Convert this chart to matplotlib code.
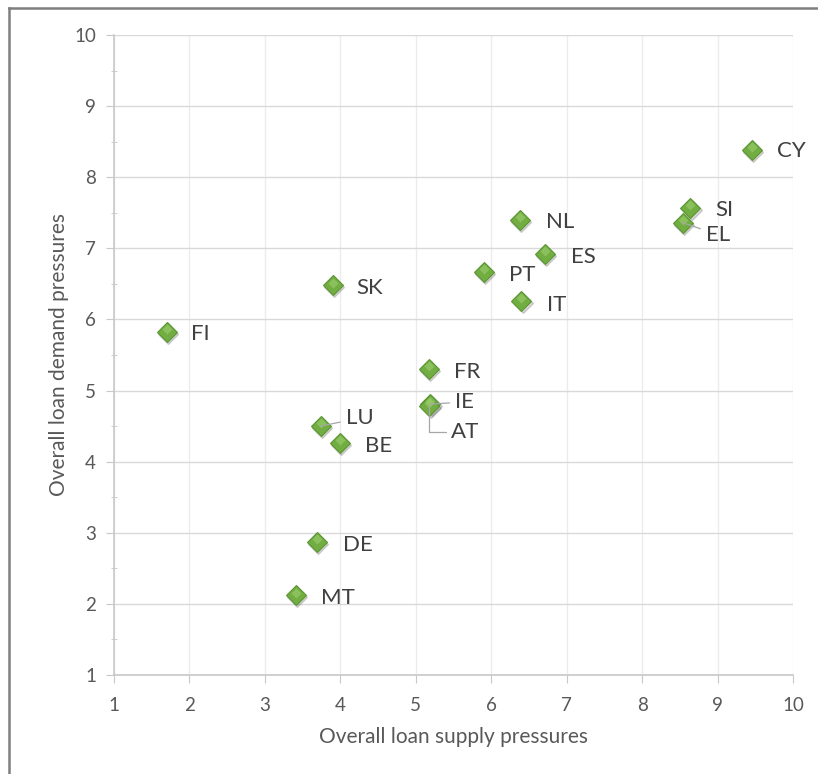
import matplotlib

matplotlib.use("Agg")
import matplotlib.pyplot as plt
from matplotlib.lines import Line2D
from matplotlib.transforms import ScaledTranslation

plt.rcParams["font.family"] = ["Lato", "DejaVu Sans"]

countries = ["FI", "SK", "LU", "BE", "DE", "MT", "FR", "IE", "AT",
             "PT", "NL", "ES", "IT", "SI", "EL", "CY"]
supply = [1.70, 3.90, 3.74, 3.99, 3.69, 3.41, 5.17, 5.19, 5.18,
          5.90, 6.38, 6.71, 6.40, 8.64, 8.54, 9.45]
demand = [5.82, 6.48, 4.50, 4.26, 2.87, 2.12, 5.30, 4.81, 4.78,
          6.67, 7.40, 6.92, 6.26, 7.57, 7.36, 8.38]

# label offsets in pixels (dx, dy) and whether a leader line is drawn
offsets = {
    "FI": (24, -2, False), "SK": (24, -3, False), "LU": (25, 8, True),
    "BE": (25, -3, False), "DE": (26, -3, False), "MT": (25, -3, False),
    "FR": (25, -3, False), "IE": (25, 2, True), "AT": (22, -26, True),
    "PT": (25, -3, False), "NL": (26, -2, False), "ES": (26, -3, False),
    "IT": (26, -4, False), "SI": (25, -2, False), "EL": (23, -12, True),
    "CY": (25, -1, False),
}

text_col = "#404040"
tick_col = "#595959"

fig = plt.figure(figsize=(8.18, 7.74), dpi=100)
ax = fig.add_axes([114 / 818, 1 - 675 / 774, (793 - 114) / 818, (675 - 35) / 774])

# outer chart frame
fig.add_artist(Line2D([9 / 818, 9 / 818], [0, 1 - 8 / 774], transform=fig.transFigure,
                      color="#7f7f7f", lw=1.8))
fig.add_artist(Line2D([9 / 818, 1], [1 - 8 / 774, 1 - 8 / 774], transform=fig.transFigure,
                      color="#7f7f7f", lw=1.8))

ax.set_xlim(1, 10)
ax.set_ylim(1, 10)
ax.set_xticks(range(1, 11))
ax.set_yticks(range(1, 11))
ax.set_yticks([i + 0.5 for i in range(1, 10)], minor=True)

ax.grid(axis="y", which="major", color="#d9d9d9", lw=1.0)
ax.grid(axis="x", which="major", color="#ececec", lw=1.0)
ax.set_axisbelow(True)
for s in ["top", "right"]:
    ax.spines[s].set_visible(False)
for s in ["left", "bottom"]:
    ax.spines[s].set_color("#c8c8c8")
    ax.spines[s].set_linewidth(1.2)

ax.tick_params(axis="both", which="major", length=6, color="#c8c8c8",
               labelsize=13.5, labelcolor=tick_col)
ax.tick_params(axis="x", which="major", pad=10)
ax.tick_params(axis="y", which="major", pad=7)
ax.tick_params(axis="y", which="minor", length=4, direction="inout", color="#c8c8c8")

# shadow, marker, highlight
ax.plot(supply, demand, "D", ms=10.5, color="#000000", alpha=0.15, ls="none",
        transform=ax.transData + ScaledTranslation(0.015, -0.02, fig.dpi_scale_trans))
ax.plot(supply, demand, "D", ms=10.5, mfc="#72ad42", mec="#5b9533", mew=0.8, ls="none")
ax.plot(supply, demand, "D", ms=5, mfc="#9bd06e", mec="none", ls="none", alpha=0.6,
        transform=ax.transData + ScaledTranslation(0, 0.028, fig.dpi_scale_trans))

for c, x, y in zip(countries, supply, demand):
    dx, dy, lead = offsets[c]
    props = None
    if lead:
        props = dict(arrowstyle="-", color="#a6a6a6", lw=0.9, shrinkA=2, shrinkB=0)
        if c == "AT":
            props["connectionstyle"] = "angle,angleA=0,angleB=90,rad=0"
    ax.annotate(c, (x, y), xytext=(dx, dy), textcoords="offset pixels",
                fontsize=16, color=text_col, ha="left", va="center",
                arrowprops=props)

ax.set_xlabel("Overall loan supply pressures", fontsize=15, color=tick_col, labelpad=9)
ax.set_ylabel("Overall loan demand pressures", fontsize=15, color=tick_col, labelpad=4)

fig.savefig("out.png", dpi=100)
